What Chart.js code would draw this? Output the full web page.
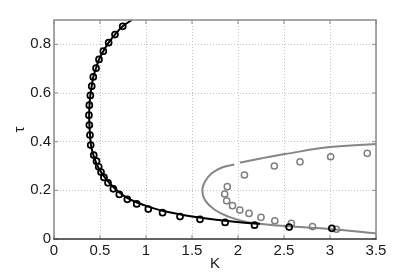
<!DOCTYPE html>
<html>
<head>
<meta charset="utf-8">
<script src="https://cdn.jsdelivr.net/npm/chart.js@4/dist/chart.umd.min.js"></script>
<style>
  html, body { margin: 0; padding: 0; background: #fff; }
  #wrap { width: 415px; height: 273px; }
</style>
</head>
<body>
<div id="wrap"><canvas id="c"></canvas></div>
<script>
// black solid curve (K, tau)
const blackLineK   = [0.845, 0.747, 0.663, 0.594, 0.536, 0.489, 0.457, 0.427, 0.410, 0.395, 0.386, 0.382, 0.385, 0.392, 0.402, 0.428, 0.462, 0.50, 0.55, 0.61, 0.69, 0.79, 0.91, 1.05, 1.20, 1.40, 1.60, 1.86, 2.10, 2.24];
const blackLineTau = [0.900, 0.874, 0.840, 0.807, 0.772, 0.738, 0.702, 0.666, 0.628, 0.590, 0.550, 0.509, 0.468, 0.427, 0.386, 0.345, 0.310, 0.282, 0.254, 0.227, 0.198, 0.170, 0.149, 0.130, 0.114, 0.099, 0.087, 0.075, 0.066, 0.063];

// black circles
const blackDotK   = [0.747, 0.663, 0.594, 0.536, 0.489, 0.457, 0.427, 0.410, 0.395, 0.384, 0.380, 0.384, 0.391, 0.399, 0.432, 0.462, 0.486, 0.511, 0.543, 0.587, 0.645, 0.710, 0.797, 0.899, 1.025, 1.18, 1.37, 1.587, 1.86, 2.18, 2.556, 3.02];
const blackDotTau = [0.874, 0.840, 0.807, 0.772, 0.738, 0.702, 0.666, 0.628, 0.590, 0.550, 0.509, 0.468, 0.427, 0.386, 0.345, 0.320, 0.297, 0.275, 0.253, 0.231, 0.206, 0.183, 0.163, 0.144, 0.123, 0.108, 0.092, 0.081, 0.068, 0.057, 0.049, 0.044];

// grey curve, split where the upper branch has a gap
const greyLineAK   = [1.96, 1.82, 1.714, 1.64, 1.612, 1.64, 1.75, 1.895, 2.08, 2.26, 2.51, 3.02, 3.5];
const greyLineATau = [0.306, 0.293, 0.270, 0.235, 0.201, 0.160, 0.119, 0.092, 0.071, 0.062, 0.053, 0.040, 0.023];
const greyLineBK   = [2.02, 2.26, 2.51, 3.0, 3.5];
const greyLineBTau = [0.314, 0.332, 0.349, 0.378, 0.390];

// grey circles
const greyDotK   = [2.07, 2.395, 2.674, 3.007, 3.405, 1.884, 1.855, 1.877, 1.94, 2.02, 2.12, 2.25, 2.40, 2.58, 2.81, 3.07];
const greyDotTau = [0.263, 0.300, 0.317, 0.338, 0.352, 0.215, 0.185, 0.157, 0.137, 0.119, 0.105, 0.089, 0.075, 0.064, 0.051, 0.040];

const xTicks = [0, 0.5, 1, 1.5, 2, 2.5, 3, 3.5];
const yTicks = [0, 0.2, 0.4, 0.6, 0.8];

const pts = (xs, ys) => xs.map((x, i) => ({ x: x, y: ys[i] }));

// matlab-like box with inward ticks
const frame = {
    id: 'frame',
    afterDraw(chart) {
        const { ctx, chartArea: a, scales } = chart;
        ctx.save();
        ctx.lineWidth = 1.5;
        ctx.strokeStyle = '#8a8a8a';
        ctx.beginPath();
        ctx.moveTo(a.left, a.bottom);
        ctx.lineTo(a.left, a.top);
        ctx.lineTo(a.right, a.top);
        ctx.lineTo(a.right, a.bottom);
        ctx.stroke();
        ctx.lineWidth = 1;
        ctx.beginPath();
        xTicks.forEach(v => {
            const px = scales.x.getPixelForValue(v);
            ctx.moveTo(px, a.bottom); ctx.lineTo(px, a.bottom - 4);
            ctx.moveTo(px, a.top); ctx.lineTo(px, a.top + 4);
        });
        yTicks.forEach(v => {
            const py = scales.y.getPixelForValue(v);
            ctx.moveTo(a.left, py); ctx.lineTo(a.left + 4, py);
            ctx.moveTo(a.right, py); ctx.lineTo(a.right - 4, py);
        });
        ctx.stroke();
        ctx.lineWidth = 1.5;
        ctx.strokeStyle = '#333';
        ctx.beginPath();
        ctx.moveTo(a.left - 0.75, a.bottom);
        ctx.lineTo(a.right + 0.75, a.bottom);
        ctx.stroke();
        ctx.restore();
    }
};

const font = { family: 'Liberation Sans', size: 15 };

new Chart(document.getElementById('c'), {
    type: 'scatter',
    data: {
        datasets: [
            { data: pts(blackDotK, blackDotTau), pointStyle: 'circle', pointRadius: 3, pointBorderWidth: 1.7,
              borderColor: '#000', backgroundColor: 'rgba(0,0,0,0)', showLine: false },
            { data: pts(greyDotK, greyDotTau), pointStyle: 'circle', pointRadius: 3.1, pointBorderWidth: 1.5,
              borderColor: '#808080', backgroundColor: 'rgba(0,0,0,0)', showLine: false },
            { data: pts(blackLineK, blackLineTau), showLine: true, pointRadius: 0, borderColor: '#000',
              borderWidth: 2, tension: 0.4 },
            { data: pts(greyLineAK, greyLineATau), showLine: true, pointRadius: 0, borderColor: '#868686',
              borderWidth: 2, tension: 0.4 },
            { data: pts(greyLineBK, greyLineBTau), showLine: true, pointRadius: 0, borderColor: '#868686',
              borderWidth: 2, tension: 0.4 }
        ]
    },
    options: {
        responsive: true,
        maintainAspectRatio: false,
        animation: false,
        layout: { padding: { top: 20, right: 39, left: 0, bottom: 0 } },
        plugins: { legend: { display: false }, tooltip: { enabled: false } },
        scales: {
            x: {
                type: 'linear', min: 0, max: 3.5,
                afterFit: s => { s.height = 34; },
                ticks: { stepSize: 0.5, includeBounds: false, padding: 3, color: '#1a1a1a', font: font,
                         maxRotation: 0, callback: v => String(v) },
                grid: { color: '#c4c4c4', lineWidth: 1, drawTicks: false },
                border: { display: false, dash: [1, 2] },
                title: { display: true, text: 'K', color: '#1a1a1a', font: font, padding: { top: 0, bottom: 0 } }
            },
            y: {
                type: 'linear', min: 0, max: 0.9,
                afterFit: s => { s.width = 54; },
                ticks: { stepSize: 0.2, includeBounds: false, padding: 3, color: '#1a1a1a', font: font,
                         callback: v => String(Math.round(v * 10) / 10) },
                grid: { color: '#c4c4c4', lineWidth: 1, drawTicks: false },
                border: { display: false, dash: [1, 2] },
                title: { display: true, text: 'τ', color: '#1a1a1a', font: font, padding: { top: 11, bottom: 0 } }
            }
        }
    },
    plugins: [frame]
});
</script>
</body>
</html>
